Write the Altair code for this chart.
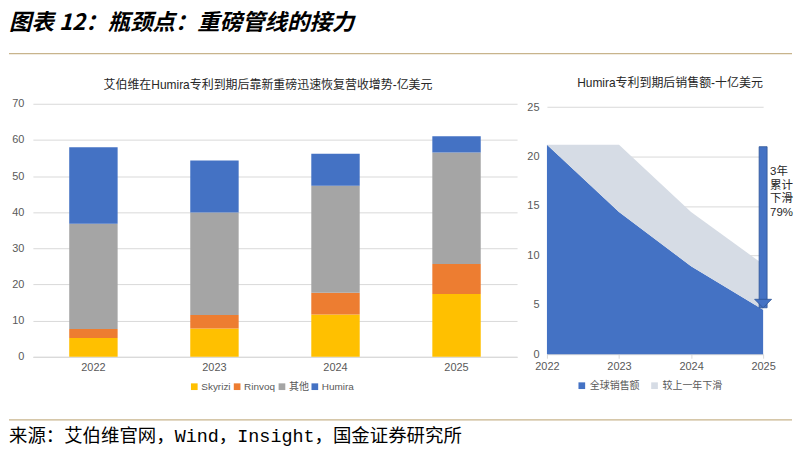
import altair as alt
import pandas as pd

# ---------------- data ----------------
years = ["2022", "2023", "2024", "2025"]
skyrizi = [5.2, 7.8, 11.7, 17.4]
rinvoq = [2.5, 3.8, 6.0, 8.3]
other = [29.1, 28.3, 29.6, 30.8]
humira = [21.2, 14.4, 8.9, 4.5]
series_names = ["Skyrizi", "Rinvoq", "其他", "Humira"]
series_colors = ["#FFC000", "#ED7D31", "#A5A5A5", "#4472C4"]
left_ticks = [0, 10, 20, 30, 40, 50, 60, 70]

area_years = [2022, 2023, 2024, 2025]
global_sales = [21.2, 14.4, 8.9, 4.5]
yoy_decline = [0.0, 6.8, 5.5, 4.6]
area_names = ["全球销售额", "较上一年下滑"]
area_colors = ["#4472C4", "#D6DCE5"]
right_ticks = [0, 5, 10, 15, 20, 25]

arrow_year = [2025]
arrow_top = [21.0]
arrow_tip = [4.7]
note_y = [18.4]
note_text = ["3年\n累计\n下滑\n79%"]

main_title = "图表 12：瓶颈点：重磅管线的接力"
left_title = "艾伯维在Humira专利到期后靠新重磅迅速恢复营收增势-亿美元"
right_title = "Humira专利到期后销售额-十亿美元"
source_text = "来源：艾伯维官网，Wind，Insight，国金证券研究所"

# ---------------- styles ----------------
SANS = "Liberation Sans, Noto Sans CJK SC, sans-serif"
CJK = "Noto Sans CJK SC, sans-serif"
MONO = "Liberation Mono, Noto Sans CJK SC, monospace"
GRID = "#D9D9D9"
LABEL = "#595959"
TAN = "#C8B48C"
LX = -24      # page left edge relative to the left plot origin
PAGE_W = 786

# ---------------- left chart ----------------
rows = []
for i, y in enumerate(years):
    for k, (name, vals) in enumerate(zip(series_names, [skyrizi, rinvoq, other, humira])):
        rows.append({"year": y, "series": name, "value": vals[i], "order": k})
bar_df = pd.DataFrame(rows)

left = alt.Chart(bar_df).mark_bar().encode(
    x=alt.X("year:N", sort=years,
            scale=alt.Scale(paddingInner=0.6, paddingOuter=0.3),
            axis=alt.Axis(title=None, labelAngle=0, ticks=False, domainColor=GRID,
                          labelPadding=5, grid=False)),
    y=alt.Y("value:Q", stack="zero", scale=alt.Scale(domain=[0, 70], nice=False),
            axis=alt.Axis(title=None, values=left_ticks, gridColor=GRID, domain=False,
                          ticks=False, labelPadding=9)),
    color=alt.Color("series:N",
                    scale=alt.Scale(domain=series_names, range=series_colors),
                    legend=alt.Legend(title=None, orient="none", legendX=157, legendY=279,
                                      direction="horizontal", symbolType="square",
                                      symbolSize=45, columnPadding=1, labelOffset=2)),
    order=alt.Order("order:Q"),
).properties(
    width=486, height=254,
    title=alt.TitleParams(left_title, font=SANS, fontSize=12, fontWeight="normal",
                          color="#262626", dx=-7, offset=6),
)

# ---------------- right chart ----------------
arows = []
for i, y in enumerate(area_years):
    for k, (name, vals) in enumerate(zip(area_names, [global_sales, yoy_decline])):
        arows.append({"year": y, "series": name, "value": vals[i], "order": k})
area_df = pd.DataFrame(arows)

xr = alt.X("year:Q", scale=alt.Scale(domain=[2022, 2025], nice=False, padding=0),
           axis=alt.Axis(title=None, values=area_years, format="d", grid=False,
                         tickSize=4, tickColor=GRID, domainColor=GRID, labelPadding=2,
                         labelFlush=False))
yscale = alt.Scale(domain=[0, 25], range=[251.4, 3.4], nice=False, padding=0)

area = alt.Chart(area_df).mark_area(interpolate="linear").encode(
    x=xr,
    y=alt.Y("value:Q", stack="zero", scale=yscale,
            axis=alt.Axis(title=None, values=right_ticks, gridColor=GRID, domain=False,
                          ticks=False, labelPadding=8)),
    color=alt.Color("series:N",
                    scale=alt.Scale(domain=area_names, range=area_colors),
                    legend=alt.Legend(title=None, orient="none", legendX=30, legendY=278,
                                      direction="horizontal", symbolType="square",
                                      symbolSize=45, columnPadding=10, labelOffset=3)),
    order=alt.Order("order:Q"),
)

arrow_df = pd.DataFrame({"year": arrow_year, "top": arrow_top, "tip": arrow_tip,
                         "ny": note_y, "note": note_text})
shaft = alt.Chart(arrow_df).mark_bar(width=8, color="#4472C4", stroke="#2F5597",
                                     strokeWidth=0.8).encode(
    x=alt.X("year:Q"), y=alt.Y("top:Q"), y2="tip:Q")
head = alt.Chart(arrow_df).mark_point(shape="M-1,-1L1,-1L0,0Z", filled=True, size=289,
                                      fill="#4472C4", stroke="#2F5597", strokeWidth=0.8,
                                      opacity=1).encode(
    x="year:Q", y="tip:Q")
note = alt.Chart(arrow_df).mark_text(align="left", baseline="middle", dx=7, fontSize=11.5,
                                     lineHeight=13.5, lineBreak="\n", color="#262626",
                                     font=SANS).encode(
    x="year:Q", y="ny:Q", text="note:N")

right = alt.layer(area, shaft, head, note).properties(
    width=217, height=251.4,
    title=alt.TitleParams(right_title, font=SANS, fontSize=12, fontWeight="normal",
                          color="#262626", dx=15, offset=11),
)

# ---------------- header / footer ----------------
one = pd.DataFrame({"t": [main_title], "s": [source_text]})
header = alt.layer(
    alt.Chart(one).mark_text(align="left", baseline="top", fontSize=22.5,
                             fontWeight="bold", fontStyle="italic", font=CJK,
                             color="#000000").encode(
        x=alt.value(LX), y=alt.value(3), text="t:N"),
    alt.Chart(one).mark_rule(color=TAN, strokeWidth=1.2).encode(
        x=alt.value(LX), x2=alt.value(LX + PAGE_W), y=alt.value(45)),
).properties(width=700, height=45)

footer = alt.layer(
    alt.Chart(one).mark_rule(color=TAN, strokeWidth=1.2).encode(
        x=alt.value(LX), x2=alt.value(LX + PAGE_W), y=alt.value(267.1)),
    alt.Chart(one).mark_text(align="left", baseline="middle", fontSize=18.5,
                             font=MONO, color="#000000").encode(
        x=alt.value(LX), y=alt.value(283.4), text="s:N"),
).properties(width=700, height=292)

middle = alt.hconcat(left, right, spacing=30, bounds="flush").resolve_scale(color="independent")

chart = alt.vconcat(
    header,
    middle,
    footer,
    spacing=50.3,
    bounds="flush",
).properties(padding=0, background="white").configure_view(stroke=None).configure_axis(
    labelFont=SANS, labelFontSize=11, labelColor=LABEL,
).configure_legend(
    labelFont=SANS, labelFontSize=10, labelColor=LABEL,
)

chart.save("out.html", embed_options={"renderer": "svg", "actions": False})
